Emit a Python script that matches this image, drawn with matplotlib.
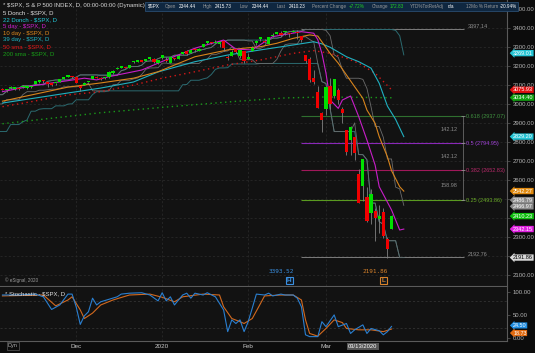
import numpy as np
import pandas as pd
import matplotlib
matplotlib.use("Agg")
import matplotlib.pyplot as plt
from matplotlib.patches import Rectangle

plt.rcParams['font.family'] = ['Liberation Sans', 'DejaVu Sans']

# $SPX daily bars, Nov 4 2019 (bar 0) .. Mar 24 2020 (bar 96, intraday)
opens = [3078.96, 3080.80, 3075.10, 3087.02, 3081.25, 3080.33, 3089.28, 3084.18, 3090.75, 3107.92,
         3117.91, 3127.45, 3114.66, 3108.49, 3111.41, 3117.44, 3134.85, 3145.49, 3147.18, 3143.85,
         3087.41, 3103.50, 3119.21, 3134.62, 3141.86, 3135.36, 3135.75, 3141.23, 3166.65, 3183.63,
         3195.40, 3195.21, 3192.32, 3223.33, 3226.05, 3225.45, 3227.20, 3247.23, 3240.09, 3215.18,
         3244.67, 3226.36, 3217.55, 3241.86, 3238.59, 3266.03, 3281.81, 3271.13, 3285.35, 3282.27,
         3302.97, 3323.66, 3321.03, 3330.02, 3315.77, 3333.10, 3247.16, 3255.35, 3289.46, 3256.45,
         3282.33, 3235.66, 3280.61, 3324.91, 3344.92, 3335.54, 3318.28, 3365.87, 3370.50, 3365.90,
         3378.08, 3369.04, 3380.39, 3380.45, 3360.50, 3257.61, 3238.94, 3139.90, 3062.54, 2916.90,
         2974.28, 3096.46, 3045.75, 3075.70, 2954.20, 2863.89, 2813.48, 2825.60, 2630.86, 2569.99,
         2508.59, 2425.66, 2436.50, 2393.48, 2431.94, 2290.71, 2344.44]
highs = [3085.20, 3083.95, 3078.34, 3097.77, 3093.09, 3088.33, 3102.61, 3098.06, 3098.20, 3120.46,
         3124.17, 3127.64, 3118.97, 3110.11, 3112.87, 3133.83, 3142.69, 3154.26, 3150.30, 3144.31,
         3094.97, 3119.38, 3119.45, 3150.60, 3148.87, 3142.12, 3143.98, 3176.28, 3182.68, 3197.71,
         3198.22, 3198.48, 3205.48, 3225.65, 3227.78, 3226.43, 3240.08, 3247.93, 3240.92, 3231.72,
         3258.14, 3246.15, 3246.84, 3244.91, 3267.07, 3275.58, 3282.99, 3288.13, 3294.25, 3298.66,
         3317.11, 3329.88, 3329.79, 3337.77, 3326.88, 3333.18, 3258.85, 3285.78, 3293.47, 3285.91,
         3282.33, 3268.44, 3306.92, 3337.58, 3347.96, 3341.42, 3352.26, 3375.63, 3381.47, 3385.09,
         3380.69, 3375.01, 3393.52, 3389.15, 3360.76, 3259.81, 3246.99, 3182.51, 3097.07, 2959.72,
         3090.96, 3136.72, 3130.97, 3083.04, 2985.93, 2863.89, 2882.59, 2825.60, 2660.95, 2711.33,
         2562.98, 2553.93, 2453.57, 2466.97, 2453.01, 2300.73, 2415.73]
lows = [3074.87, 3072.15, 3065.89, 3080.23, 3073.58, 3075.82, 3084.73, 3078.80, 3083.26, 3104.60,
        3112.06, 3113.47, 3091.41, 3094.55, 3099.26, 3117.44, 3131.00, 3143.41, 3139.34, 3110.78,
        3070.33, 3102.53, 3103.76, 3134.62, 3135.46, 3126.09, 3133.21, 3138.47, 3156.51, 3183.63,
        3191.03, 3191.14, 3192.32, 3216.03, 3222.30, 3220.51, 3227.20, 3234.37, 3216.57, 3212.03,
        3235.53, 3222.34, 3214.64, 3232.43, 3236.67, 3263.67, 3260.86, 3268.43, 3277.19, 3280.69,
        3302.82, 3318.86, 3316.61, 3320.04, 3301.87, 3281.53, 3234.50, 3253.22, 3271.89, 3242.80,
        3214.68, 3235.66, 3280.61, 3313.75, 3334.39, 3322.12, 3317.77, 3352.72, 3369.72, 3360.52,
        3366.15, 3355.61, 3378.83, 3341.02, 3328.45, 3214.65, 3118.77, 3108.99, 2977.39, 2855.84,
        2945.19, 2976.63, 3034.38, 2999.83, 2901.54, 2734.43, 2734.00, 2707.22, 2478.86, 2492.37,
        2380.94, 2367.04, 2280.52, 2319.78, 2295.56, 2191.86, 2344.44]
closes = [3078.27, 3074.62, 3076.78, 3085.18, 3093.08, 3087.01, 3091.84, 3094.04, 3096.63, 3120.46,
          3122.03, 3120.18, 3108.46, 3103.54, 3110.29, 3133.64, 3140.52, 3153.63, 3140.98, 3113.87,
          3093.20, 3112.76, 3117.43, 3145.91, 3135.96, 3132.52, 3141.63, 3168.57, 3168.80, 3191.45,
          3192.52, 3191.14, 3205.37, 3221.22, 3224.01, 3223.38, 3239.91, 3240.02, 3221.29, 3230.78,
          3257.85, 3234.85, 3246.28, 3237.18, 3253.05, 3274.70, 3265.35, 3288.13, 3283.15, 3289.29,
          3316.81, 3329.62, 3320.79, 3321.75, 3325.54, 3295.47, 3243.63, 3276.24, 3273.40, 3283.66,
          3225.52, 3248.92, 3297.59, 3334.69, 3345.78, 3327.71, 3352.09, 3357.75, 3379.45, 3373.94,
          3380.16, 3370.29, 3386.15, 3373.23, 3337.75, 3225.89, 3128.21, 3116.39, 2978.76, 2954.22,
          3090.23, 3003.37, 3130.12, 3023.94, 2972.37, 2746.56, 2882.23, 2741.38, 2480.64, 2711.02,
          2386.13, 2529.19, 2398.10, 2409.39, 2304.92, 2237.40, 2410.23]
prev_close = 3066.91

# Oct 1 .. Nov 1 2019, only needed to fill the channels at the left edge
prior_highs = [2992.53, 2924.78, 2911.13, 2953.74, 2959.75, 2925.47, 2929.32, 2948.46, 2993.28, 2972.84,
               3003.28, 2997.54, 3008.29, 3000.00, 3007.33, 3014.57, 3004.78, 3016.07, 3027.39, 3044.08,
               3047.87, 3050.10, 3046.90, 3066.95]
prior_lows = [2938.70, 2874.93, 2855.94, 2918.56, 2935.68, 2892.66, 2907.41, 2917.12, 2963.07, 2962.94,
              2973.61, 2985.20, 2991.79, 2976.31, 2995.35, 2995.04, 2991.21, 3000.42, 3001.94, 3032.12,
              3034.81, 3025.96, 3023.19, 3050.72]

# averages (bar number, value); 5/10/39 day are displaced 3 bars
ma5_idx = [1, 8, 17, 21, 24, 27, 35, 40, 48, 55, 58, 62, 67, 74, 77, 78, 79, 80, 81, 83, 84, 86, 88, 90, 92, 93, 96, 98, 99]
ma5_val = [3066, 3096, 3124, 3137, 3128, 3145, 3180, 3225, 3295, 3338, 3290, 3286, 3356, 3382, 3374, 3340, 3268,
           3163, 3022, 2978, 3022, 3043, 2934, 2811, 2679, 2565, 2443, 2337, 2342]
ma10_idx = [1, 17, 25, 33, 39, 48, 56, 60, 64, 68, 72, 76, 78, 81, 83, 85, 87, 89, 90, 92, 93, 95, 96, 98, 99]
ma10_val = [3016, 3090, 3112, 3137, 3171, 3250, 3286, 3295, 3303, 3321, 3347, 3365, 3359, 3268, 3216, 3154,
            3092, 3031, 2969, 2899, 2829, 2723, 2650, 2565, 2542]
ma39_idx = [1, 17, 25, 33, 39, 48, 56, 64, 72, 77, 79, 81, 85, 88, 91, 92, 93, 95, 97, 99]
ma39_val = [3006, 3059, 3085, 3117, 3170, 3224, 3259, 3286, 3312, 3329, 3318, 3300, 3250, 3224, 3190, 3150,
            3110, 2990, 2920, 2829]
sma50_idx = [1, 8, 17, 25, 33, 40, 48, 56, 64, 72, 77, 81, 85, 88, 92, 94, 96]
sma50_val = [2987, 3013, 3049, 3066, 3101, 3137, 3171, 3207, 3233, 3268, 3282, 3268, 3242, 3216, 3163, 3120, 3076]
sma200_idx = [1, 25, 41, 58, 70, 80, 96]
sma200_val = [2897, 2955, 2985, 3015, 3033, 3038, 3034]

# stochastic %K / %D
k_idx = [1, 5, 9, 11, 13, 15, 17, 18, 19, 20, 21, 22, 23, 24, 25, 29, 30, 32, 35, 37, 39, 40, 41, 42, 43, 45,
         46, 47, 48, 50, 51, 53, 55, 56, 57, 58, 59, 60, 61, 62, 63, 65, 66, 67, 69, 70, 72, 73, 74, 75, 76, 78,
         79, 80, 82, 83, 85, 86, 87, 89, 90, 91, 93, 94, 95, 96]
k_val = [94, 94, 96, 90, 62, 72, 96, 96, 68, 29, 48, 57, 87, 72, 79, 90, 96, 98, 99, 94, 81, 99, 81, 90, 72, 94,
         98, 87, 98, 94, 99, 90, 61, 13, 39, 31, 39, 13, 35, 65, 96, 94, 98, 92, 96, 94, 94, 87, 68, 6, 2, 2,
         35, 24, 50, 24, 31, 9, 17, 28, 9, 20, 15, 6, 13, 24.5]
d_idx = [1, 11, 14, 17, 18, 20, 21, 23, 25, 28, 32, 37, 40, 43, 45, 50, 54, 55, 57, 59, 60, 62, 64, 65, 69, 72,
         74, 75, 76, 78, 80, 82, 84, 85, 88, 91, 94, 96]
d_val = [92, 94, 70, 83, 90, 61, 42, 54, 72, 83, 94, 96, 89, 79, 90, 96, 94, 68, 42, 35, 31, 42, 75, 92, 94, 94,
         83, 39, 9, 3, 20, 39, 33, 20, 17, 17, 13, 18.73]

fib_hi, fib_lo = 3397.14, 2192.76
fib_ratios = [0.618, 0.5, 0.382, 0.25]
fib_colors = ['#2f6f2f', '#8a28b8', '#a0185a', '#5a9a20']
fib_text = ['#3f8f3f', '#a040d8', '#b82a6a', '#6aaa28']

month_idx = [19, 40, 61, 80]
month_lbl = ['Dec', '2020', 'Feb', 'Mar']

legend = [("* $SPX, S & P 500 INDEX, D, 00:00-00:00 (Dynamic)", '#d8d8d8'),
          ("5 Donch - $SPX, D", '#e0e0e0'), ("22 Donch - $SPX, D", '#22c8d8'),
          ("5 day - $SPX, D", '#d020d0'), ("10 day - $SPX, D", '#e08a1e'),
          ("39 day - $SPX, D", '#20b8c8'), ("50 sma - $SPX, D", '#e01818'),
          ("200 sma - $SPX, D", '#18a018')]

header = [("$SPX", '#ffffff'), ("Open", '#9a9a9a'), ("2344.44", '#ffffff'), ("High", '#9a9a9a'),
          ("2415.73", '#ffffff'), ("Low", '#9a9a9a'), ("2344.44", '#ffffff'), ("Last", '#9a9a9a'),
          ("2410.23", '#ffffff'), ("Percent Change", '#9a9a9a'), ("+7.72%", '#22d022'),
          ("Change", '#9a9a9a'), ("172.83", '#22d022'), ("YTD%TotRetAdj", '#9a9a9a'), ("n/a", '#ffffff'),
          ("12Mo % Return", '#9a9a9a'), ("-20.94%", '#ffffff')]
header_x = [148, 165, 179, 203, 215, 240, 252, 277, 289, 312, 349, 372, 390, 410, 448, 466, 500]

# price-scale tags: value, colour, text colour, small vertical nudge (px) where tags collide
tags = [(3269.01, '#25c4d4', '#ffffff', 0), (3075.93, '#e01010', '#ffffff', 0), (3034.40, '#10a010', '#ffffff', 0),
        (2829.20, '#25c4d4', '#ffffff', 0), (2542.27, '#e08a10', '#ffffff', 0), (2486.79, '#8a8a8a', '#ffffff', -1.5),
        (2466.97, '#8a8a8a', '#ffffff', 1.0), (2410.23, '#10c010', '#ffffff', 0), (2342.15, '#e020e0', '#ffffff', 0),
        (2191.86, '#d8d8d8', '#000000', 0)]
stoch_tags = [(24.50, '#1e8ce0', -1), (18.73, '#e06a10', 4)]

W, H = 535, 353
BG = '#121212'
GRID = '#2c2c2c'

fig = plt.figure(figsize=(W / 100, H / 100), dpi=100)
fig.patch.set_facecolor('#0c0c0c')
ax = fig.add_axes([0, 1 - 286 / H, 507 / W, 286 / H])
ax2 = fig.add_axes([0, 1 - 341 / H, 507 / W, 54 / H])

x = np.arange(len(closes))
o, h, l, c = map(np.array, (opens, highs, lows, closes))
up = np.diff(np.r_[prev_close, c]) >= 0
col = np.where(up, '#00e000', '#f00000')

for a in (ax, ax2):
    a.set_facecolor(BG)
    a.set_xlim(0.4, 124.2)
    for s in ('top', 'left'):
        a.spines[s].set_visible(False)
    a.spines['right'].set_color('#5a5a5a')
    a.spines['bottom'].set_color('#5a5a5a')
    a.spines['right'].set_linewidth(0.8)
    a.spines['bottom'].set_linewidth(0.8)
    a.yaxis.tick_right()
    a.tick_params(axis='y', colors='#5a5a5a', labelcolor='#b4b4b4', labelsize=4.3, length=2, width=0.5, pad=2)
    for m in month_idx:
        a.axvline(m, color=GRID, lw=0.5, ls=(0, (3, 3)), zorder=0)

price_ticks = np.arange(2100, 3600, 100)
# a scale label sitting under a value tag is hidden by it
tag_vals = np.array([t[0] for t in tags])
ax.set_ylim(2042, 3549)
ax.set_yticks(price_ticks)
ax.set_yticklabels(["" if np.min(np.abs(tag_vals - v)) < 15 else f"{v:.2f}" for v in price_ticks])
ax.set_xticks([])
for v in price_ticks[:-1]:
    ax.axhline(v, color=GRID, lw=0.5, ls=(0, (3, 3)), zorder=0)

# channels, displaced 3 bars like the averages
hi_all = pd.Series(prior_highs + highs)
lo_all = pd.Series(prior_lows + lows)
xs = np.arange(len(hi_all)) - len(prior_highs) + 3
ax.plot(xs, hi_all.rolling(22).max(), color='#2b6a70', lw=0.7, zorder=2)
ax.plot(xs, lo_all.rolling(22).min(), color='#2b6a70', lw=0.7, zorder=2)
ax.plot(xs, hi_all.rolling(5).max(), color='#6c6c6c', lw=0.6, zorder=2)
ax.plot(xs, lo_all.rolling(5).min(), color='#6c6c6c', lw=0.6, zorder=2)

ax.plot(sma200_idx, sma200_val, color='#1a9a1a', lw=1.0, ls=(0, (1, 2.5)), zorder=2)
ax.plot(sma50_idx, sma50_val, color='#d41818', lw=1.0, ls=(0, (1, 2.5)), zorder=2)
ax.plot(ma39_idx, ma39_val, color='#20b0c0', lw=0.8, zorder=2)
ax.plot(ma10_idx, ma10_val, color='#d8841c', lw=0.8, zorder=2)
ax.plot(ma5_idx, ma5_val, color='#c81ec8', lw=0.8, zorder=2)

# fibonacci retracement
fib_x0, fib_x1 = 73.9, 113.7
rng = fib_hi - fib_lo
ax.hlines([fib_hi, fib_lo], fib_x0, fib_x1, color='#8c8c8c', lw=0.6, zorder=1)
ax.text(fib_x1 + 0.9, fib_hi, f"{fib_hi:.2f}", color='#8c8c8c', fontsize=4.0, va='bottom')
ax.text(fib_x1 + 0.9, fib_lo, f"{fib_lo:.2f}", color='#8c8c8c', fontsize=4.0, va='bottom')
levels = [fib_lo + r * rng for r in fib_ratios]
for r, lv, lc, tc in zip(fib_ratios, levels, fib_colors, fib_text):
    ax.hlines(lv, fib_x0, fib_x1, color=lc, lw=0.8, zorder=1)
    ax.text(fib_x1 + 0.6, lv, f"{r:g} ({lv + 1e-9:.2f})", color=tc, fontsize=4.0, va='center')
ax.vlines(fib_x1 - 0.3, levels[-1], levels[0], color='#7a7a7a', lw=0.5, zorder=1)
for lv in levels:
    ax.hlines(lv, fib_x1 - 0.8, fib_x1 + 0.2, color='#9a9a9a', lw=0.5)
for i in range(len(levels) - 1):
    d = (fib_ratios[i] - fib_ratios[i + 1]) * rng
    ax.text(fib_x1 - 1.5, (levels[i] + levels[i + 1]) / 2, f"{d:.2f}", color='#8a8a8a',
            fontsize=4.0, ha='right', va='center')

# candles
ax.vlines(x, l, h, color='#808080', lw=0.6, zorder=3)
body = np.maximum(np.abs(c - o), 7)
ax.bar(x, body, bottom=np.minimum(o, c), width=0.78, color=col, lw=0, zorder=4)

# high / low markers
hi_i, lo_i = int(np.argmax(h)), int(np.argmin(l))
tr = ax.get_xaxis_transform()
for idx, v, cc, ch in ((hi_i, h[hi_i], '#3a8fe0', 'H'), (lo_i, l[lo_i], '#d8822a', 'L')):
    ax.text(idx - 3, 0.052, f"{v:.2f}", transform=tr, color=cc, fontsize=4.3, ha='center', va='center',
            family='DejaVu Sans Mono')
    ax.text(idx - 1, 0.02, ch, transform=tr, color=cc, fontsize=4.6, ha='center', va='center',
            fontweight='bold', bbox=dict(boxstyle='square,pad=0.2', fc='#101820', ec=cc, lw=0.8))

ax.text(0.01, 0.012, "\u00a9 eSignal, 2020", transform=ax.transAxes, color='#9a9a9a', fontsize=3.3, va='bottom')

# value tags on the price scale
px = (ax.get_ylim()[1] - ax.get_ylim()[0]) / 286
ytr = ax.get_yaxis_transform()
for v, fc, tc, dy in tags:
    ax.text(1.012, v - dy * px, f"{v:.2f}", transform=ytr, color=tc, fontsize=4.0, va='center', ha='left',
            bbox=dict(boxstyle='larrow,pad=0.12', fc=fc, ec='none'), clip_on=False, zorder=10)

# legend text
for n, (t, cc) in enumerate(legend):
    fig.text(3 / W, 1 - (6 + 6.8 * n) / H, t, color=cc, fontsize=4.3, va='center')

# quote header (drawn over the top price label, as in the platform)
fig.patches.append(Rectangle((145 / W, 1 - 11 / H), 373 / W, 9 / H, transform=fig.transFigure,
                             fc='#0f2740', ec='#2a4d70', lw=0.6, zorder=5))
for (t, cc), hx in zip(header, header_x):
    fig.text(hx / W, 1 - 6.5 / H, t, color=cc, fontsize=3.3, va='center', zorder=6)

# stochastic pane
ax2.set_ylim(-7.7, 111.7)
ax2.set_yticks([0, 50, 100])
ax2.set_yticklabels(["0.00", "50.00", "100.00"])
ax2.axhline(80, color='#3a3a3a', lw=0.5, ls=(0, (3, 3)), zorder=0)
ax2.axhline(20, color='#3a3a3a', lw=0.5, ls=(0, (3, 3)), zorder=0)
ax2.plot(d_idx, d_val, color='#d2691e', lw=0.8, zorder=2)
ax2.plot(k_idx, k_val, color='#2a7fd0', lw=0.8, zorder=3)
ax2.text(0.01, 0.88, "* Stochastic - $SPX, D", transform=ax2.transAxes, color='#e0e0e0', fontsize=4.3,
         va='center')
spx = 119.4 / 54
ytr2 = ax2.get_yaxis_transform()
for v, fc, dy in stoch_tags:
    ax2.text(1.012, v - dy * spx, f"{v:.2f}", transform=ytr2, color='#ffffff', fontsize=3.9, va='center',
             ha='left', bbox=dict(boxstyle='larrow,pad=0.1', fc=fc, ec='none'), clip_on=False, zorder=10)

ax2.set_xticks(month_idx)
ax2.set_xticklabels(month_lbl)
ax2.tick_params(axis='x', colors='#c8c8c8', labelsize=4.6, length=0, pad=2)
ax2.text(89, -0.1, "03/13/2020", transform=ax2.get_xaxis_transform(), color='#ffffff', fontsize=4.2,
         ha='center', va='center', bbox=dict(boxstyle='square,pad=0.2', fc='#555555', ec='none'))
fig.text(8 / W, 1 - 346 / H, "Dyn", color='#b0b0b0', fontsize=4.0, va='center',
         bbox=dict(boxstyle='square,pad=0.2', fc='none', ec='#5a5a5a', lw=0.5))

fig.savefig("out.png", dpi=100, facecolor=fig.get_facecolor())
